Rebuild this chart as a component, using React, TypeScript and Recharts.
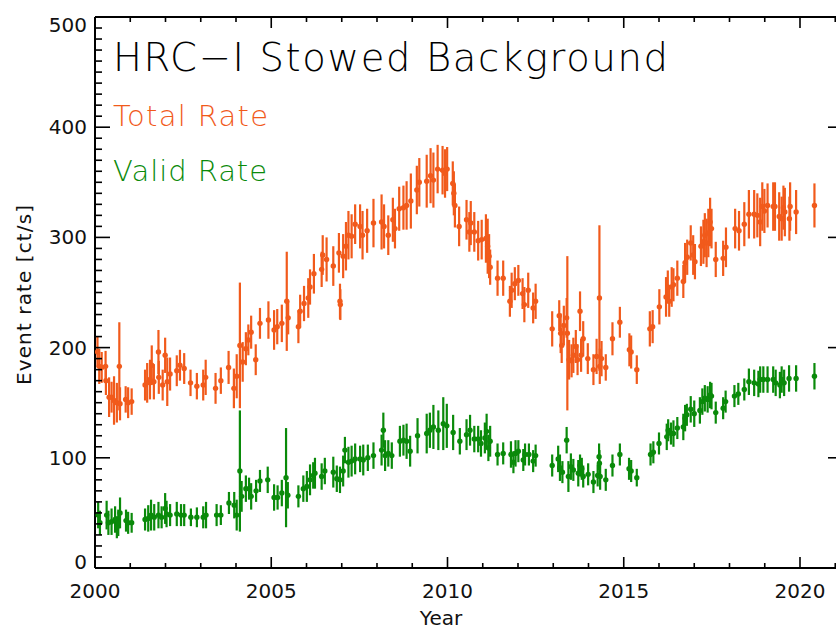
import React from 'react';
import { ScatterChart, Scatter, XAxis, YAxis, ErrorBar, ReferenceLine } from 'recharts';

// ---- Total rate ----
const totalYears = [
  2000.07, 2000.12, 2000.19, 2000.30, 2000.31, 2000.40, 2000.47, 2000.54, 2000.62, 2000.69,
  2000.71, 2000.87, 2000.94, 2001.04, 2001.42, 2001.48, 2001.56, 2001.61, 2001.67, 2001.80,
  2001.81, 2001.92, 2001.99, 2002.05, 2002.13, 2002.32, 2002.41, 2002.53, 2002.71, 2002.89,
  2003.07, 2003.14, 2003.42, 2003.57, 2003.79, 2003.94, 2004.02, 2004.11, 2004.19, 2004.28,
  2004.35, 2004.43, 2004.56, 2004.68, 2004.92, 2005.08, 2005.17, 2005.30, 2005.44, 2005.48,
  2005.77, 2005.82, 2005.93, 2006.05, 2006.10, 2006.21, 2006.43, 2006.46, 2006.57, 2006.76,
  2006.92, 2006.95, 2006.96, 2007.04, 2007.12, 2007.19, 2007.28, 2007.38, 2007.52, 2007.59,
  2007.72, 2007.90, 2008.13, 2008.20, 2008.32, 2008.45, 2008.51, 2008.63, 2008.75, 2008.84,
  2008.96, 2009.13, 2009.20, 2009.41, 2009.52, 2009.60, 2009.72, 2009.86, 2009.93, 2009.99,
  2010.15, 2010.18, 2010.21, 2010.33, 2010.54, 2010.62, 2010.66, 2010.76, 2010.87, 2010.97,
  2011.09, 2011.14, 2011.18, 2011.21, 2011.42, 2011.58, 2011.77, 2011.82, 2011.91, 2012.01,
  2012.13, 2012.18, 2012.29, 2012.43, 2012.50, 2012.97, 2013.17, 2013.21, 2013.24, 2013.30,
  2013.38, 2013.40, 2013.45, 2013.52, 2013.57, 2013.64, 2013.69, 2013.76, 2013.79, 2013.85,
  2013.98, 2014.14, 2014.23, 2014.31, 2014.32, 2014.37, 2014.49, 2014.68, 2014.89, 2015.16,
  2015.21, 2015.37, 2015.74, 2015.82, 2016.01, 2016.20, 2016.25, 2016.29, 2016.36, 2016.41,
  2016.52, 2016.69, 2016.74, 2016.80, 2016.90, 2016.97, 2017.02, 2017.19, 2017.26, 2017.30,
  2017.35, 2017.40, 2017.45, 2017.49, 2017.61, 2017.82, 2017.90, 2018.16, 2018.27, 2018.42,
  2018.55, 2018.70, 2018.79, 2018.87, 2018.93, 2018.99, 2019.08, 2019.24, 2019.29, 2019.41,
  2019.48, 2019.53, 2019.57, 2019.70, 2019.72, 2019.89, 2020.41,
];
const totalRates = [
  196, 183, 182, 183, 170, 155, 155, 152, 150, 183,
  149, 153, 150, 151, 166, 168, 171, 184, 169, 196,
  173, 166, 193, 169, 176, 179, 184, 181, 168, 165,
  166, 173, 163, 170, 182, 163, 174, 202, 187, 199,
  207, 214, 189, 222, 225, 216, 219, 222, 242, 227,
  219, 233, 240, 245, 255, 267, 271, 284, 280, 274,
  286, 242, 239, 283, 292, 302, 301, 312, 310, 302,
  306, 313, 314, 310, 302, 316, 308, 326, 327, 329,
  333, 343, 350, 351, 356, 352, 362, 361, 358, 362,
  349, 340, 329, 310, 316, 305, 313, 305, 297, 298,
  299, 292, 283, 273, 263, 263, 242, 252, 258, 261,
  249, 239, 252, 236, 242, 217, 229, 213, 202, 220,
  227, 213, 189, 188, 193, 201, 189, 233, 193, 208,
  190, 180, 192, 245, 183, 190, 182, 208, 223, 198,
  196, 180, 217, 219, 237, 246, 255, 242, 255, 257,
  263, 260, 277, 282, 295, 284, 278, 292, 296, 302,
  295, 304, 314, 308, 280, 281, 291, 308, 306, 312,
  321, 321, 320, 314, 328, 324, 329, 328, 328, 319,
  317, 327, 323, 317, 328, 323, 329,
];
const totalErrors = [
  14, 16, 14, 14, 13, 18, 14, 22, 18, 40,
  15, 12, 14, 12, 14, 18, 18, 18, 16, 20,
  15, 14, 16, 22, 15, 14, 14, 14, 12, 12,
  14, 16, 14, 12, 15, 18, 20, 57, 18, 15,
  14, 15, 14, 14, 17, 18, 16, 17, 45, 15,
  15, 15, 16, 18, 16, 18, 16, 18, 20, 18,
  18, 16, 14, 20, 22, 22, 20, 18, 20, 22,
  20, 22, 25, 20, 18, 20, 18, 20, 20, 22,
  25, 22, 22, 24, 25, 25, 22, 22, 22, 20,
  20, 20, 20, 18, 18, 18, 20, 18, 18, 18,
  22, 25, 20, 16, 16, 16, 14, 16, 15, 14,
  14, 16, 16, 14, 16, 16, 14, 18, 16, 18,
  18, 70, 18, 15, 16, 15, 14, 18, 15, 16,
  14, 14, 16, 66, 16, 16, 12, 15, 14, 15,
  15, 13, 16, 15, 16, 18, 15, 14, 18, 15,
  16, 15, 18, 16, 16, 18, 16, 18, 20, 20,
  22, 22, 22, 18, 16, 16, 18, 18, 18, 20,
  22, 22, 20, 22, 22, 20, 20, 22, 22, 22,
  20, 20, 22, 20, 22, 20, 20,
];

// ---- Valid rate ----
const validYears = [
  2000.09, 2000.14, 2000.33, 2000.38, 2000.47, 2000.57, 2000.62, 2000.66, 2000.71, 2000.88,
  2000.94, 2001.04, 2001.42, 2001.51, 2001.59, 2001.68, 2001.80, 2001.89, 2001.99, 2002.03,
  2002.13, 2002.32, 2002.44, 2002.53, 2002.72, 2002.89, 2003.07, 2003.15, 2003.45, 2003.57,
  2003.80, 2003.95, 2004.02, 2004.11, 2004.16, 2004.28, 2004.37, 2004.43, 2004.57, 2004.68,
  2004.90, 2005.08, 2005.18, 2005.30, 2005.42, 2005.47, 2005.77, 2005.91, 2006.01, 2006.10,
  2006.19, 2006.24, 2006.43, 2006.52, 2006.76, 2006.86, 2006.95, 2007.04, 2007.09, 2007.19,
  2007.28, 2007.38, 2007.52, 2007.61, 2007.74, 2007.90, 2008.13, 2008.18, 2008.23, 2008.32,
  2008.42, 2008.65, 2008.75, 2008.84, 2008.94, 2009.15, 2009.41, 2009.50, 2009.60, 2009.74,
  2009.88, 2009.98, 2010.16, 2010.35, 2010.54, 2010.64, 2010.76, 2010.87, 2010.95, 2011.06,
  2011.11, 2011.16, 2011.21, 2011.42, 2011.58, 2011.80, 2011.87, 2011.93, 2012.01, 2012.15,
  2012.20, 2012.31, 2012.43, 2012.50, 2012.97, 2013.14, 2013.19, 2013.26, 2013.38, 2013.43,
  2013.50, 2013.57, 2013.71, 2013.76, 2013.81, 2013.85, 2013.99, 2014.14, 2014.26, 2014.30,
  2014.31, 2014.33, 2014.49, 2014.68, 2014.89, 2015.15, 2015.21, 2015.37, 2015.76, 2015.84,
  2016.00, 2016.22, 2016.26, 2016.34, 2016.41, 2016.52, 2016.69, 2016.74, 2016.79, 2016.90,
  2017.00, 2017.16, 2017.23, 2017.30, 2017.38, 2017.45, 2017.49, 2017.61, 2017.82, 2017.89,
  2018.14, 2018.25, 2018.42, 2018.55, 2018.70, 2018.82, 2018.87, 2018.96, 2019.08, 2019.24,
  2019.31, 2019.43, 2019.48, 2019.55, 2019.69, 2019.89, 2020.41,
];
const validRates = [
  48, 41, 48, 41, 42, 44, 37, 41, 50, 43,
  41, 41, 44, 45, 48, 46, 48, 46, 54, 49,
  48, 49, 48, 48, 46, 46, 46, 48, 48, 48,
  59, 57, 48, 88, 65, 72, 72, 65, 70, 79,
  80, 64, 64, 68, 82, 66, 65, 72, 74, 80,
  84, 86, 83, 88, 87, 81, 80, 88, 107, 96,
  97, 99, 99, 98, 100, 102, 107, 125, 102, 104,
  102, 115, 116, 115, 106, 120, 122, 125, 128, 125,
  131, 129, 123, 115, 121, 125, 117, 117, 113, 118,
  124, 109, 115, 103, 104, 103, 96, 104, 106, 98,
  103, 103, 97, 102, 93, 99, 91, 87, 116, 83,
  92, 89, 86, 93, 90, 83, 85, 78, 84, 101,
  95, 83, 80, 93, 103, 90, 88, 82, 103, 105,
  113, 119, 125, 122, 122, 127, 128, 136, 139, 144,
  140, 143, 151, 154, 153, 157, 156, 141, 145, 151,
  156, 158, 162, 169, 168, 167, 171, 171, 171, 171,
  168, 166, 171, 168, 172, 172, 174,
];
const validErrors = [
  12, 11, 13, 11, 12, 12, 10, 12, 14, 10,
  10, 9, 10, 12, 14, 12, 12, 10, 14, 12,
  10, 11, 10, 10, 8, 9, 10, 12, 10, 9,
  10, 12, 14, 55, 14, 12, 10, 12, 10, 10,
  12, 12, 11, 12, 45, 12, 10, 12, 14, 14,
  12, 14, 12, 12, 14, 12, 12, 14, 12, 14,
  14, 14, 12, 14, 12, 12, 14, 16, 14, 12,
  12, 14, 14, 16, 14, 16, 18, 16, 20, 18,
  24, 20, 16, 12, 14, 14, 12, 12, 12, 14,
  16, 12, 14, 10, 10, 12, 10, 12, 10, 10,
  10, 10, 10, 10, 10, 12, 12, 10, 12, 14,
  12, 10, 12, 10, 10, 10, 10, 10, 10, 12,
  12, 12, 10, 10, 10, 10, 10, 8, 10, 10,
  10, 12, 10, 10, 12, 10, 12, 12, 10, 12,
  12, 12, 12, 12, 12, 12, 12, 10, 10, 10,
  10, 10, 10, 12, 12, 12, 12, 12, 12, 12,
  12, 12, 12, 12, 12, 12, 12,
];

const xTicks = [2000, 2001, 2002, 2003, 2004, 2005, 2006, 2007, 2008, 2009, 2010,
  2011, 2012, 2013, 2014, 2015, 2016, 2017, 2018, 2019, 2020, 2021];
const yTicks = [0, 10, 20, 30, 40, 50, 60, 70, 80, 90, 100, 110, 120, 130, 140, 150, 160, 170, 180, 190,
  200, 210, 220, 230, 240, 250, 260, 270, 280, 290, 300, 310, 320, 330, 340, 350, 360, 370, 380, 390,
  400, 410, 420, 430, 440, 450, 460, 470, 480, 490, 500];

const titleText = 'HRC\u2212I Stowed Background';
const totalLabel = 'Total Rate';
const validLabel = 'Valid Rate';
const xLabel = 'Year';
const yLabel = 'Event rate [ct/s]';

const ORANGE = '#f15a1b';
const GREEN = '#0a8a0a';
const FONT = "'DejaVu Sans', sans-serif";

const totalData = totalYears.map((x, i) => ({ x, y: totalRates[i], err: totalErrors[i] }));
const validData = validYears.map((x, i) => ({ x, y: validRates[i], err: validErrors[i] }));

const CHART_W = 850;
const CHART_H = 629;
const MARGIN = { top: 17, right: 7, bottom: 31, left: 35 };
const Y_AXIS_W = 60;
const X_AXIS_H = 30;
const PLOT_W = CHART_W - MARGIN.left - MARGIN.right - Y_AXIS_W;
const PLOT_H = CHART_H - MARGIN.top - MARGIN.bottom - X_AXIS_H;

const XTick = (props: any) => {
  const { x, y, payload } = props;
  const v = payload.value;
  const major = v % 5 === 0;
  const len = major ? 11 : 5;
  return (
    <g>
      <line x1={x} x2={x} y1={y} y2={y - len} stroke="#000" strokeWidth={1.6} />
      <line x1={x} x2={x} y1={y - PLOT_H} y2={y - PLOT_H + len} stroke="#000" strokeWidth={1.6} />
      {major && (
        <text x={x} y={y + 30} textAnchor="middle" fontSize={20} fontFamily={FONT} fill="#111">
          {v}
        </text>
      )}
    </g>
  );
};

const YTick = (props: any) => {
  const { x, y, payload } = props;
  const v = payload.value;
  const major = v % 100 === 0;
  const len = major ? 15 : 7;
  let dy = 7;
  if (v === 500) dy = 15;
  if (v === 0) dy = 1;
  return (
    <g>
      <line x1={x} x2={x + len} y1={y} y2={y} stroke="#000" strokeWidth={1.6} />
      <line x1={x + PLOT_W} x2={x + PLOT_W - len} y1={y} y2={y} stroke="#000" strokeWidth={1.6} />
      {major && (
        <text x={x - 8} y={y + dy} textAnchor="end" fontSize={20} fontFamily={FONT} fill="#111">
          {v}
        </text>
      )}
    </g>
  );
};

const makeDot = (color: string) => (p: any) => <circle cx={p.cx} cy={p.cy} r={2.7} fill={color} />;

export default function App() {
  return (
    <div style={{ position: 'absolute', left: 0, top: 0, width: 836, height: 629, overflow: 'hidden', background: '#fff' }}>
      <ScatterChart width={CHART_W} height={CHART_H} margin={MARGIN}>
        <XAxis
          type="number"
          dataKey="x"
          domain={[2000, 2021.22]}
          ticks={xTicks}
          interval={0}
          allowDataOverflow
          height={X_AXIS_H}
          tickSize={0}
          tickMargin={0}
          tick={<XTick />}
          axisLine={{ stroke: '#000', strokeWidth: 2 }}
          tickLine={false}
        />
        <YAxis
          type="number"
          dataKey="y"
          domain={[0, 500]}
          ticks={yTicks}
          interval={0}
          allowDataOverflow
          width={Y_AXIS_W}
          tickSize={0}
          tickMargin={0}
          tick={<YTick />}
          axisLine={{ stroke: '#000', strokeWidth: 2 }}
          tickLine={false}
        />
        <ReferenceLine y={500} stroke="#000" strokeWidth={2} />
        <Scatter data={totalData} isAnimationActive={false} shape={makeDot(ORANGE)}>
          <ErrorBar dataKey="err" direction="y" width={0} stroke={ORANGE} strokeWidth={2.2} isAnimationActive={false} />
        </Scatter>
        <Scatter data={validData} isAnimationActive={false} shape={makeDot(GREEN)}>
          <ErrorBar dataKey="err" direction="y" width={0} stroke={GREEN} strokeWidth={2.2} isAnimationActive={false} />
        </Scatter>
      </ScatterChart>
      <svg width={836} height={629} style={{ position: 'absolute', left: 0, top: 0, pointerEvents: 'none' }}>
        <text x={113} y={71} fontSize={38.5} fontFamily={FONT} fontWeight={200} fill="#000" textLength={555} lengthAdjust="spacing">
          {titleText}
        </text>
        <text x={113} y={126} fontSize={29} fontFamily={FONT} fontWeight={200} fill={ORANGE} textLength={155} lengthAdjust="spacing">
          {totalLabel}
        </text>
        <text x={113} y={181} fontSize={29} fontFamily={FONT} fontWeight={200} fill={GREEN} textLength={154} lengthAdjust="spacing">
          {validLabel}
        </text>
        <text x={441} y={625} textAnchor="middle" fontSize={20} fontFamily={FONT} fill="#111">
          {xLabel}
        </text>
        <text x={31} y={295} textAnchor="middle" fontSize={20} fontFamily={FONT} fill="#111" transform="rotate(-90 31 295)" textLength={180} lengthAdjust="spacing">
          {yLabel}
        </text>
      </svg>
    </div>
  );
}
